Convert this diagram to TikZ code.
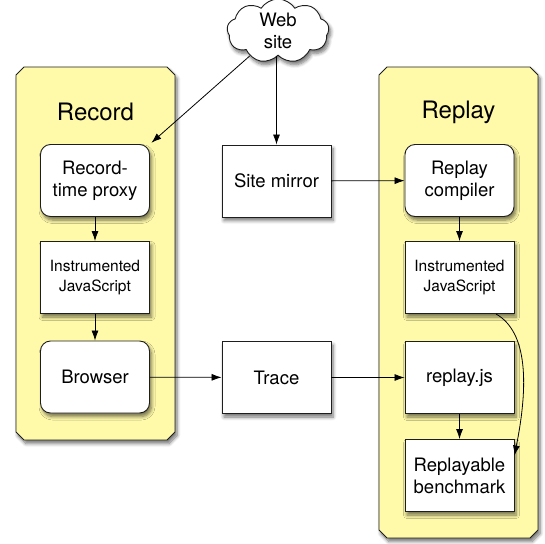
\documentclass[tikz,border=0pt]{standalone}
\usepackage{fontspec}
\setmainfont{TeX Gyre Heros}
\usetikzlibrary{arrows.meta,shapes.symbols,shadows.blur}
\definecolor{panelfill}{RGB}{255,250,170}
\definecolor{edge}{RGB}{30,30,30}
\tikzset{
  softshadow/.style={blur shadow={shadow xshift=2pt,shadow yshift=-3.5pt,shadow blur radius=3.5pt,shadow blur steps=6,shadow opacity=55}},
  panel/.style={draw=edge,line width=0.9pt,fill=panelfill,softshadow},
  box/.style={draw=edge,line width=0.9pt,fill=white,minimum width=109pt,minimum height=72pt,
    align=center,inner sep=2pt,font=\fontsize{18.5}{22}\selectfont,softshadow},
  roundbox/.style={box,rounded corners=10pt},
  smallbox/.style={box,font=\fontsize{15.5}{20}\selectfont},
  title/.style={font=\fontsize{24}{28}\selectfont},
  link/.style={draw=black,line width=0.8pt,-{Latex[length=10pt,width=7pt]}},
}
\begin{document}
\begin{tikzpicture}[x=1pt,y=-1pt]
\useasboundingbox (0,0) rectangle (545,543);

% chamfered panels
\path[panel] (16,75) -- (24,67) -- (167,67) -- (175,75) -- (175,432) -- (167,440) -- (24,440) -- (16,432) -- cycle;
\path[panel] (379,75) -- (387,67) -- (530,67) -- (538,75) -- (538,530) -- (530,538) -- (387,538) -- (379,530) -- cycle;
\node[title] (rectitle) at (95.5,112) {Record};
\node[title] (reptitle) at (458.5,112) {Replay};

% source
\node[cloud,cloud puffs=9,cloud puff arc=115,aspect=1.5,draw=edge,line width=0.9pt,fill=white,
  minimum width=102pt,minimum height=64pt,inner sep=0pt,align=center,
  font=\fontsize{18.5}{22}\selectfont,softshadow] (web) at (278,31) {Web\\site};

% record side
\node[roundbox] (proxy) at (95,180.5) {Record-\\time proxy};
\node[smallbox] (ijs) at (95,277.5) {Instrumented\\JavaScript};
\node[roundbox] (browser) at (95,377) {Browser};

% middle
\node[box] (mirror) at (276.5,181) {Site mirror};
\node[box] (trace) at (276.5,377.5) {Trace};

% replay side
\node[roundbox] (compiler) at (459.5,180.5) {Replay\\compiler};
\node[smallbox] (rjs) at (459.5,277.5) {Instrumented\\JavaScript};
\node[box] (replayjs) at (459.5,377.5) {replay.js};
\node[box] (bench) at (459.5,475.5) {Replayable\\benchmark};

% connectors
\draw[link,shorten >=2pt] (web) -- (proxy.north east);
\draw[link] (web.south -| mirror.north) -- (mirror);
\draw[link] (mirror) -- (compiler);
\draw[link] (proxy) -- (ijs);
\draw[link] (ijs) -- (browser);
\draw[link] (browser) -- (trace);
\draw[link] (trace) -- (replayjs);
\draw[link] (compiler) -- (rjs);
\draw[link] (replayjs) -- (bench);
\draw[link] (rjs.-45) .. controls +(32,18) and +(14,-70) .. (bench.20);
\end{tikzpicture}
\end{document}
